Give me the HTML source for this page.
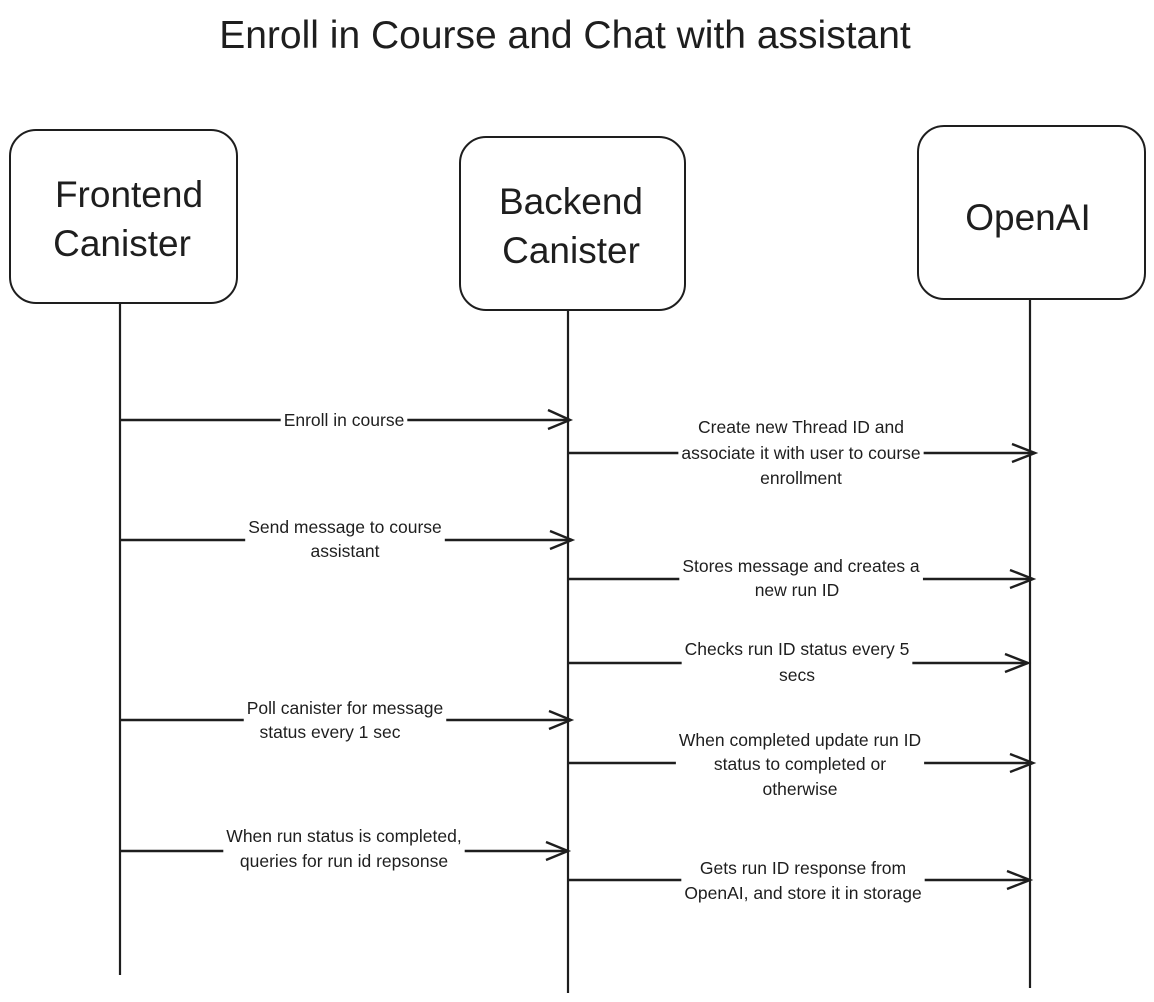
<!DOCTYPE html>
<html><head><meta charset="utf-8"><style>
html,body{margin:0;padding:0;background:#fff;}
svg{display:block;}
text{font-family:"Liberation Sans",sans-serif;fill:#1e1e1e;}
.lbl{font-size:17.5px;text-anchor:middle;}
.big{font-size:37px;text-anchor:middle;}
</style></head><body>
<svg id="s" width="1154" height="1002" viewBox="0 0 1154 1002" xmlns="http://www.w3.org/2000/svg">
<text x="565" y="48" style="font-size:39px;text-anchor:middle">Enroll in Course and Chat with assistant</text>
<g fill="none" stroke="#1e1e1e" stroke-width="2">
<rect x="10" y="130" width="227" height="173" rx="26"/>
<rect x="460" y="137" width="225" height="173" rx="26"/>
<rect x="918" y="126" width="227" height="173" rx="26"/>
</g>
<g stroke="#1e1e1e" stroke-width="2.2">
<line x1="120" y1="303" x2="120" y2="975"/>
<line x1="568" y1="310" x2="568" y2="993"/>
<line x1="1030" y1="299" x2="1030" y2="988"/>
</g>
<text class="big" x="129" y="207">Frontend</text>
<text class="big" x="122" y="256">Canister</text>
<text class="big" x="571" y="214">Backend</text>
<text class="big" x="571" y="263">Canister</text>
<text class="big" x="1028" y="230">OpenAI</text>
<g stroke="#1e1e1e" stroke-width="2.4" fill="none">
<line x1="120" y1="420" x2="570" y2="420"/><polyline points="548,410 570,420 548,429"/>
<line x1="120" y1="540" x2="572" y2="540"/><polyline points="550,531 572,540 550,549"/>
<line x1="120" y1="720" x2="571" y2="720"/><polyline points="549,711 571,720 549,729"/>
<line x1="120" y1="851" x2="568" y2="851"/><polyline points="546,842 568,851 546,860"/>
<line x1="568" y1="453" x2="1035" y2="453"/><polyline points="1012,444 1035,453 1012,462"/>
<line x1="568" y1="579" x2="1033" y2="579"/><polyline points="1010,570 1033,579 1010,588"/>
<line x1="568" y1="663" x2="1028" y2="663"/><polyline points="1005,654 1028,663 1005,672"/>
<line x1="568" y1="763" x2="1033" y2="763"/><polyline points="1010,754 1033,763 1010,772"/>
<line x1="568" y1="880" x2="1030" y2="880"/><polyline points="1007,871 1030,880 1007,889"/>
</g>
<g id="bg" fill="#fff"></g>
<g id="labels">
<g><text class="lbl" x="344" y="426">Enroll in course</text></g>
<g><text class="lbl" x="345" y="533">Send message to course</text>
<text class="lbl" x="345" y="557">assistant</text></g>
<g><text class="lbl" x="345" y="714">Poll canister for message</text>
<text class="lbl" x="330" y="738">status every 1 sec</text></g>
<g><text class="lbl" x="344" y="842">When run status is completed,</text>
<text class="lbl" x="344" y="867">queries for run id repsonse</text></g>
<g><text class="lbl" x="801" y="433">Create new Thread ID and</text>
<text class="lbl" x="801" y="459">associate it with user to course</text>
<text class="lbl" x="801" y="484">enrollment</text></g>
<g><text class="lbl" x="801" y="572">Stores message and creates a</text>
<text class="lbl" x="797" y="596">new run ID</text></g>
<g><text class="lbl" x="797" y="655">Checks run ID status every 5</text>
<text class="lbl" x="797" y="681">secs</text></g>
<g><text class="lbl" x="800" y="746">When completed update run ID</text>
<text class="lbl" x="800" y="770">status to completed or</text>
<text class="lbl" x="800" y="795">otherwise</text></g>
<g><text class="lbl" x="803" y="874">Gets run ID response from</text>
<text class="lbl" x="803" y="899">OpenAI, and store it in storage</text></g>
</g>
</svg>
<script>
var bg=document.getElementById('bg');
document.querySelectorAll('#labels > g').forEach(function(t){
 var b=t.getBBox();
 var r=document.createElementNS('http://www.w3.org/2000/svg','rect');
 r.setAttribute('x',b.x-3);r.setAttribute('y',b.y);
 r.setAttribute('width',b.width+6);r.setAttribute('height',b.height);
 bg.appendChild(r);
});
</script>
</body></html>
